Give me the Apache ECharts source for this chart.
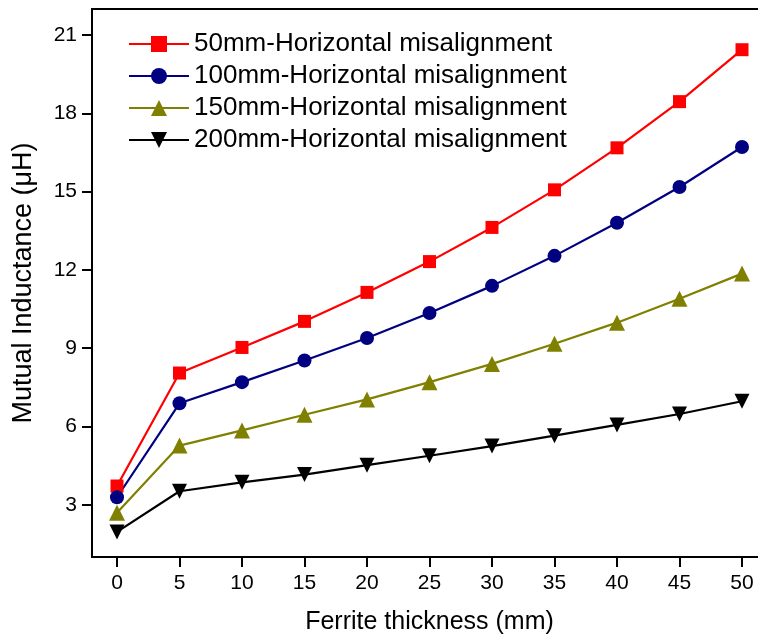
<!DOCTYPE html>
<html>
<head>
<meta charset="utf-8">
<script src="https://cdn.jsdelivr.net/npm/echarts@6/dist/echarts.min.js"></script>
<style>
  html, body { margin: 0; padding: 0; background: #fff; }
  #chart { width: 758px; height: 637px; }
</style>
</head>
<body>
<div id="chart"></div>
<script>
// ferrite thickness (mm)
var thickness = [0, 5, 10, 15, 20, 25, 30, 35, 40, 45, 50];
// mutual inductance (uH) per misalignment
var mis50 = [3.72, 8.05, 9.03, 10.03, 11.14, 12.32, 13.63, 15.07, 16.68, 18.45, 20.44];
var mis100 = [3.29, 6.89, 7.70, 8.53, 9.39, 10.35, 11.39, 12.54, 13.81, 15.18, 16.71];
var mis150 = [2.70, 5.27, 5.85, 6.45, 7.04, 7.70, 8.40, 9.17, 9.98, 10.90, 11.86];
var mis200 = [1.96, 3.52, 3.86, 4.16, 4.52, 4.88, 5.25, 5.65, 6.06, 6.48, 6.97];
var names = ['50mm-Horizontal misalignment', '100mm-Horizontal misalignment',
             '150mm-Horizontal misalignment', '200mm-Horizontal misalignment'];
var xTicks = [0, 5, 10, 15, 20, 25, 30, 35, 40, 45, 50];
var yTicks = [3, 6, 9, 12, 15, 18, 21];

function pairs(ys) {
    return thickness.map(function (x, i) { return [x, ys[i]]; });
}

var font = 'Liberation Sans, Arial, sans-serif';

function makeSeries(name, data, color, symbol, size) {
    return {
        name: name,
        type: 'line',
        data: pairs(data),
        symbol: symbol,
        symbolSize: size,
        showAllSymbol: true,
        lineStyle: {color: color, width: 2.2},
        itemStyle: {color: color},
        animation: false
    };
}

var chart = echarts.init(document.getElementById('chart'));
chart.setOption({
    backgroundColor: '#fff',
    textStyle: {fontFamily: font},
    grid: {
        left: 92, top: 9, right: -9, bottom: 80,
        show: true, borderColor: '#000', borderWidth: 2,
        outerBoundsMode: 'none'
    },
    legend: {
        orient: 'vertical',
        left: 123, top: 26,
        itemWidth: 60, itemHeight: 20, itemGap: 6, itemTextGap: 6,
        textStyle: {fontSize: 26, lineHeight: 26, color: '#000', fontFamily: font},
        data: names
    },
    xAxis: {
        type: 'value', min: -2, max: 52,
        name: 'Ferrite thickness (mm)',
        nameLocation: 'middle', nameGap: 53,
        nameTextStyle: {fontSize: 25, color: '#000', fontFamily: font},
        axisLine: {onZero: false, lineStyle: {color: '#000', width: 2}},
        axisTick: {show: true, inside: false, length: 10, lineStyle: {width: 2, color: '#000'}, customValues: xTicks},
        axisLabel: {fontSize: 21, color: '#000', margin: 16, customValues: xTicks},
        splitLine: {show: false}
    },
    yAxis: {
        type: 'value', min: 1, max: 22,
        name: 'Mutual Inductance (\u03bcH)',
        nameLocation: 'middle', nameGap: 55,
        nameTextStyle: {fontSize: 27, color: '#000', fontFamily: font},
        axisLine: {show: true, onZero: false, lineStyle: {color: '#000', width: 2}},
        axisTick: {show: true, inside: false, length: 10, lineStyle: {width: 2, color: '#000'}, customValues: yTicks},
        axisLabel: {fontSize: 21, color: '#000', margin: 15, customValues: yTicks},
        splitLine: {show: false}
    },
    series: [
        makeSeries(names[0], mis50, '#ff0000', 'rect', 13),
        makeSeries(names[1], mis100, '#000080', 'circle', 14),
        makeSeries(names[2], mis150, '#808000', 'triangle', 16),
        makeSeries(names[3], mis200, '#000000', 'path://M0,0 L10,0 L5,9 Z', 15)
    ]
});
</script>
</body>
</html>
